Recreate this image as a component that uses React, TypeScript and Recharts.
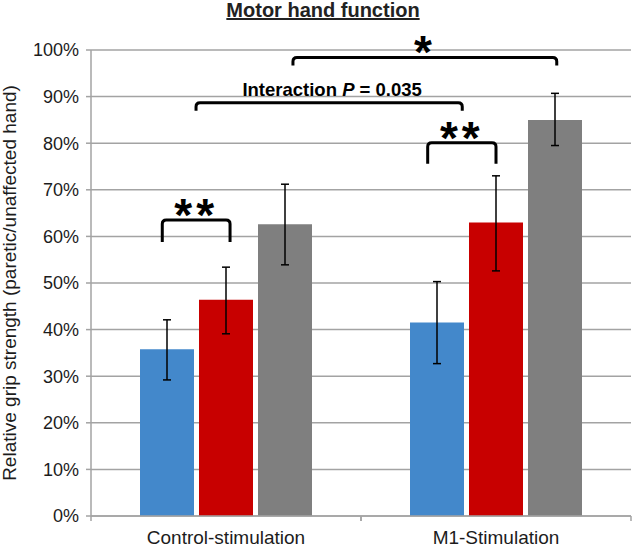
import { Bar, BarChart, CartesianGrid, ErrorBar, ReferenceLine, XAxis, YAxis } from 'recharts';

const categories = ['Control-stimulation', 'M1-Stimulation'];
const blueValues = [0.358, 0.415];
const redValues = [0.464, 0.63];
const greyValues = [0.626, 0.85];
// [minus, plus]
const blueErrors = [[0.066, 0.063], [0.088, 0.088]];
const redErrors = [[0.073, 0.07], [0.104, 0.1]];
const greyErrors = [[0.087, 0.086], [0.055, 0.057]];
const yTicks = [0, 0.1, 0.2, 0.3, 0.4, 0.5, 0.6, 0.7, 0.8, 0.9, 1];

// significance brackets, x in category units (0..2)
const bracketFrom = [0.264, 1.247, 0.389, 0.748];
const bracketTo = [0.515, 1.5, 1.375, 1.725];
const bracketLevel = [0.635, 0.801, 0.887, 0.984];
const bracketText = ['**', '**', 'Interaction P = 0.035', '*'];

const FONT = '"Liberation Sans", Arial, Helvetica, sans-serif';
const GRID = '#a3a3a3';
const TEXT = '#1c1c1c';
const W = 634;
const H = 547;
const HALF_BAND = 135;
const legPx = [22, 21, 8, 8];

const data = categories.map((name, i) => ({
  name,
  pos: i + 0.5,
  blue: blueValues[i],
  blueErr: blueErrors[i],
  red: redValues[i],
  redErr: redErrors[i],
  grey: greyValues[i],
  greyErr: greyErrors[i],
}));

function CategoryTick(props: any) {
  const { x, y, payload } = props;
  return (
    <g>
      <line x1={x - HALF_BAND} x2={x - HALF_BAND} y1={y} y2={y + 5} stroke={GRID} strokeWidth={1.5} />
      <line x1={x + HALF_BAND} x2={x + HALF_BAND} y1={y} y2={y + 5} stroke={GRID} strokeWidth={1.5} />
      <text x={x} y={y + 28} textAnchor="middle" fontSize={19} fontFamily={FONT} fill={TEXT}>
        {payload.value}
      </text>
    </g>
  );
}

function makeBracket(i: number) {
  return (p: any) => {
    const { x1, x2, y1 } = p;
    const r = 4;
    const leg = legPx[i];
    const d = `M${x1},${y1 + leg} L${x1},${y1 + r} Q${x1},${y1} ${x1 + r},${y1} L${x2 - r},${y1} Q${x2},${y1} ${x2},${y1 + r} L${x2},${y1 + leg}`;
    const cx = (x1 + x2) / 2;
    const label = bracketText[i];
    const isStars = label.startsWith('*');
    return (
      <g>
        <path d={d} fill="none" stroke="#000" strokeWidth={3} />
        {isStars ? (
          <text x={cx} y={y1 + 11} textAnchor="middle" fontSize={46} fontWeight="bold" fontFamily={FONT} fill="#000" letterSpacing={4}>
            {label}
          </text>
        ) : (
          <text x={cx + 3} y={y1 - 7} textAnchor="middle" fontSize={18.5} fontWeight="bold" fontFamily={FONT} fill="#000">
            Interaction <tspan fontStyle="italic">P</tspan> = 0.035
          </text>
        )}
      </g>
    );
  };
}

export default function App() {
  return (
    <div style={{ position: 'absolute', left: 0, top: 0, width: W, height: H, background: '#fff' }}>
      <BarChart width={W} height={H} data={data} margin={{ top: 50, right: 3, left: 0, bottom: 0 }} barCategoryGap={49} barGap={5}>
        <CartesianGrid vertical={false} stroke={GRID} strokeWidth={1.5} />
        <XAxis
          dataKey="name"
          height={31}
          interval={0}
          axisLine={{ stroke: GRID, strokeWidth: 1.5 }}
          tickLine={false}
          tickSize={0}
          tickMargin={0}
          tick={<CategoryTick />}
        />
        <XAxis xAxisId="ann" dataKey="pos" type="number" domain={[0, 2]} allowDataOverflow hide />
        <YAxis
          width={91}
          domain={[0, 1]}
          ticks={yTicks}
          interval={0}
          tickFormatter={(v: number) => `${Math.round(v * 100)}%`}
          axisLine={{ stroke: GRID, strokeWidth: 1.5 }}
          tickLine={{ stroke: GRID, strokeWidth: 1.5 }}
          tickSize={5}
          tickMargin={7}
          tick={{ fill: TEXT, fontSize: 18, fontFamily: FONT }}
        />
        <Bar dataKey="blue" fill="#4388cb" isAnimationActive={false}>
          <ErrorBar dataKey="blueErr" width={4} stroke="#000" strokeWidth={1.5} />
        </Bar>
        <Bar dataKey="red" fill="#c80000" isAnimationActive={false}>
          <ErrorBar dataKey="redErr" width={4} stroke="#000" strokeWidth={1.5} />
        </Bar>
        <Bar dataKey="grey" fill="#7f7f7f" isAnimationActive={false}>
          <ErrorBar dataKey="greyErr" width={4} stroke="#000" strokeWidth={1.5} />
        </Bar>
        {bracketText.map((t, i) => (
          <ReferenceLine
            key={t + i}
            xAxisId="ann"
            ifOverflow="visible"
            segment={[
              { x: bracketFrom[i], y: bracketLevel[i] },
              { x: bracketTo[i], y: bracketLevel[i] },
            ]}
            shape={makeBracket(i)}
          />
        ))}
      </BarChart>
      <svg width={W} height={H} style={{ position: 'absolute', left: 0, top: 0, pointerEvents: 'none' }}>
        <text x={323} y={17} textAnchor="middle" fontSize={20} fontWeight="bold" fontFamily={FONT} fill="#222" textDecoration="underline">
          Motor hand function
        </text>
        <text transform="translate(15.5,283) rotate(-90)" textAnchor="middle" fontSize={19} fontFamily={FONT} fill={TEXT}>
          Relative grip strength (paretic/unaffected hand)
        </text>
      </svg>
    </div>
  );
}
